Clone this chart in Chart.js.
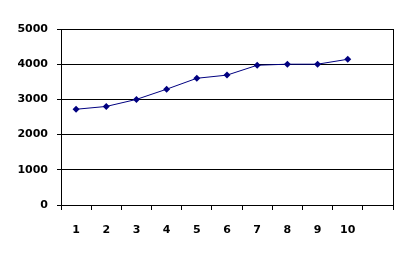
<!DOCTYPE html>
<html>
<head>
<meta charset="utf-8">
<script src="https://cdn.jsdelivr.net/npm/chart.js@4/dist/chart.umd.min.js"></script>
<style>
  html, body { margin: 0; padding: 0; background: #fff; }
  #wrap { width: 409px; height: 259px; }
</style>
</head>
<body>
<div id="wrap"><canvas id="chart" width="409" height="259"></canvas></div>
<script>
// x 카테고리 (마지막 칸은 비어 있음)
const labels = ['1', '2', '3', '4', '5', '6', '7', '8', '9', '10', ''];
const values = [2720, 2800, 3000, 3290, 3600, 3690, 3970, 4000, 4000, 4140, null];
const yTicks = [0, 1000, 2000, 3000, 4000, 5000];

const font = { family: '"DejaVu Sans", sans-serif', size: 11, weight: 'bold' };

new Chart(document.getElementById('chart'), {
  type: 'line',
  data: {
    labels,
    datasets: [{
      data: values,
      borderColor: '#000080',
      backgroundColor: '#000080',
      borderWidth: 1,
      pointStyle: 'rectRot',
      pointRadius: 3.5,
      pointBorderWidth: 0,
      tension: 0,
      fill: false,
    }],
  },
  options: {
    responsive: false,
    animation: false,
    layout: { padding: { top: 29, left: 0, right: 0, bottom: 0 } },
    plugins: { legend: { display: false }, tooltip: { enabled: false } },
    scales: {
      x: {
        offset: true,
        grid: { offset: true, drawOnChartArea: false, drawTicks: true, tickLength: 5, color: '#000' },
        border: { display: true, color: '#000' },
        ticks: { color: '#000', font, padding: 14, autoSkip: false, maxRotation: 0 },
        afterFit(scale) { scale.height = 54; },
      },
      y: {
        min: 0,
        max: 5000,
        afterBuildTicks(scale) { scale.ticks = yTicks.map(v => ({ value: v })); },
        grid: { color: '#000', tickLength: 4, drawTicks: true },
        border: { display: true, color: '#000' },
        ticks: { color: '#000', font, padding: 9, callback: v => String(v) },
        afterFit(scale) { scale.width = 61; },
      },
      y2: {
        position: 'right',
        display: true,
        grid: { drawOnChartArea: false, drawTicks: false },
        border: { display: true, color: '#000' },
        ticks: { display: false },
        afterFit(scale) { scale.width = 16; },
      },
    },
  },
});
</script>
</body>
</html>
